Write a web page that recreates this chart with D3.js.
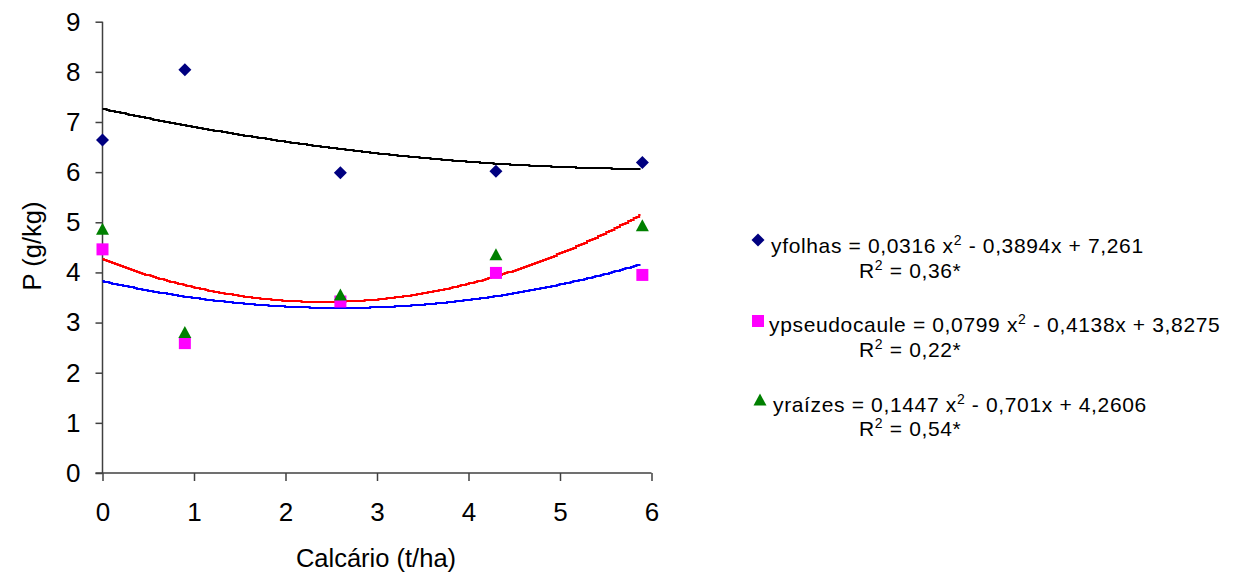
<!DOCTYPE html>
<html>
<head>
<meta charset="utf-8">
<script src="https://cdn.jsdelivr.net/npm/d3@7"></script>
<style>
  html, body { margin: 0; padding: 0; background: #fff; }
  svg text { font-family: "Liberation Sans", Arial, sans-serif; fill: #000; }
</style>
</head>
<body>
<svg id="chart" width="1245" height="577"></svg>
<script>
// ---- data ----
const doses = [0, 0.9, 2.6, 4.3, 5.9];
const folhas = [6.64, 8.04, 5.99, 6.02, 6.19];
const pseudocaule = [4.46, 2.59, 3.42, 3.99, 3.95];
const raizes = [4.86, 2.80, 3.55, 4.35, 4.93];
// trendline coefficients [a, b, c] for y = a x^2 + b x + c
const coefFolhas = [0.0316, -0.3894, 7.261];
const coefPseudocaule = [0.0799, -0.4138, 3.8275];
const coefRaizes = [0.1447, -0.701, 4.2606];
const xTicks = [0, 1, 2, 3, 4, 5, 6];
const yTicks = [0, 1, 2, 3, 4, 5, 6, 7, 8, 9];
const legendEq = [
  "yfolhas = 0,0316 x|2| - 0,3894x + 7,261",
  "ypseudocaule = 0,0799 x|2| - 0,4138x + 3,8275",
  "yraízes = 0,1447 x|2| - 0,701x + 4,2606"
];
const legendR2 = ["0,36*", "0,22*", "0,54*"];

const svg = d3.select("#chart");
const x = d3.scaleLinear().domain([0, 6]).range([102.5, 651.5]);
const y = d3.scaleLinear().domain([0, 9]).range([473, 21.7]);

// axes
const gx = svg.append("g").attr("transform", `translate(0,${y(0)})`)
  .call(d3.axisBottom(x).tickValues(xTicks).tickSize(8).tickPadding(22).tickFormat(d3.format("d")));
const gy = svg.append("g").attr("transform", `translate(${x(0)},0)`)
  .call(d3.axisLeft(y).tickValues(yTicks).tickSize(7).tickPadding(15).tickFormat(d3.format("d")));
[gx, gy].forEach(g => {
  g.selectAll("path").attr("stroke", "#404040").attr("stroke-width", 1.5);
  g.selectAll("line").attr("stroke", "#404040").attr("stroke-width", 1.5);
  g.selectAll("text").attr("font-size", 26).attr("font-family", "Liberation Sans, Arial, sans-serif").attr("fill", "#000");
});
gx.select(".domain").attr("d", `M${x(0) - 7},0H${x(6)}`);
gy.select(".domain").attr("d", `M0,${y(0)}V${y(9)}`);

// axis titles
svg.append("text").attr("x", 376).attr("y", 567).attr("text-anchor", "middle")
  .attr("font-size", 25.5).text("Calcário (t/ha)");
svg.append("text").attr("transform", "translate(41,246) rotate(-90)").attr("text-anchor", "middle")
  .attr("font-size", 25.5).text("P (g/kg)");

// trendlines (Excel-like pixel stepping)
const quad = c => v => c[0] * v * v + c[1] * v + c[2];
const xsLine = d3.range(0, 5.9001, 0.03);
const lineGen = f => d3.line().curve(d3.curveStep).x(d => x(d)).y(d => Math.round(y(f(d))))(xsLine);
svg.append("path").attr("d", lineGen(quad(coefFolhas))).attr("fill", "none").attr("stroke", "#000").attr("stroke-width", 2);
svg.append("path").attr("d", lineGen(quad(coefPseudocaule))).attr("fill", "none").attr("stroke", "#0000FF").attr("stroke-width", 2);
svg.append("path").attr("d", lineGen(quad(coefRaizes))).attr("fill", "none").attr("stroke", "#FF0000").attr("stroke-width", 2);

// markers
const diamond = "M0,-6.5L6.5,0L0,6.5L-6.5,0Z";
const square = "M-6,-6H6V6H-6Z";
const triangle = "M0,-6.5L6.5,5.5H-6.5Z";
function markers(vals, path, color) {
  svg.append("g").selectAll("path").data(vals).join("path")
    .attr("d", path).attr("fill", color)
    .attr("transform", (d, i) => `translate(${x(doses[i])},${y(d)})`);
}
markers(folhas, diamond, "#000080");
markers(pseudocaule, square, "#FF00FF");
markers(raizes, triangle, "#008000");

// legend
const legMarkers = [[diamond, "#000080", 758, 240], [square, "#FF00FF", 758, 321], [triangle, "#008000", 760, 400]];
const legTextX = [771, 769, 773];
const legBase = [253, 332, 412];
const legR2Base = [278, 357, 436];
legMarkers.forEach((m, i) => {
  svg.append("path").attr("d", m[0]).attr("fill", m[1]).attr("transform", `translate(${m[2]},${m[3]})`);
  const t = svg.append("text").attr("x", legTextX[i]).attr("y", legBase[i])
    .attr("font-size", 21).attr("letter-spacing", 0.65);
  legendEq[i].split("|").forEach((part, j) => {
    if (j === 1) t.append("tspan").attr("font-size", 14).attr("dy", -8).text(part);
    else if (j === 2) t.append("tspan").attr("dy", 8).text(part);
    else t.append("tspan").text(part);
  });
  const r = svg.append("text").attr("x", 859).attr("y", legR2Base[i])
    .attr("font-size", 21).attr("letter-spacing", 0.65);
  r.append("tspan").text("R");
  r.append("tspan").attr("font-size", 14).attr("dy", -8).text("2");
  r.append("tspan").attr("dy", 8).text(" = " + legendR2[i]);
});
</script>
</body>
</html>
